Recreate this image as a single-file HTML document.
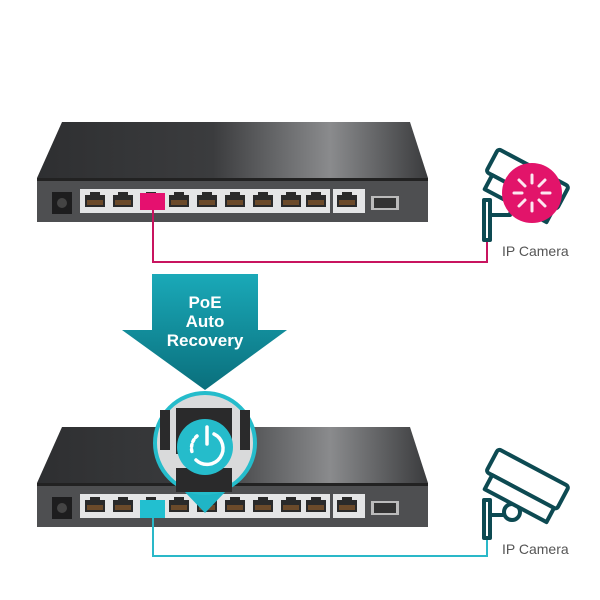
<!DOCTYPE html>
<html><head><meta charset="utf-8"><style>
html,body{margin:0;padding:0;background:#fff;}
svg{display:block;}
text{font-family:"Liberation Sans",sans-serif;}
</style></head><body>
<svg width="600" height="600" viewBox="0 0 600 600" xmlns="http://www.w3.org/2000/svg">
<defs>
<linearGradient id="top" x1="0" y1="0" x2="1" y2="0">
<stop offset="0" stop-color="#2e2f31"/><stop offset="0.45" stop-color="#3b3c3e"/><stop offset="0.75" stop-color="#8a8b8d"/><stop offset="1" stop-color="#3a3b3d"/>
</linearGradient>
<linearGradient id="arr" x1="0" y1="0" x2="0" y2="1">
<stop offset="0" stop-color="#1aa9b8"/><stop offset="1" stop-color="#0a6f7c"/>
</linearGradient>
<g id="port">
<rect x="0" y="0" width="26" height="22" fill="#e4e5e6"/>
<rect x="3" y="5" width="20" height="12" fill="#2a2a2a"/>
<rect x="8" y="2" width="10" height="4" fill="#2a2a2a"/>
<rect x="5" y="10" width="16" height="5" fill="#6b4a2a"/>
</g>
<g id="sw">
<polygon points="62,122 410,122 428,178 37,178" fill="url(#top)"/>
<rect x="37" y="178" width="391" height="44" fill="#4e4f51"/>
<rect x="37" y="178" width="391" height="3" fill="#222"/>
<rect x="52" y="192" width="20" height="22" fill="#1d1d1e"/>
<circle cx="62" cy="203" r="5" fill="#444"/>
<rect x="80" y="189" width="285" height="24" fill="#e4e5e6"/>
<use href="#port" x="82" y="190"/><use href="#port" x="110" y="190"/><use href="#port" x="138" y="190"/>
<use href="#port" x="166" y="190"/><use href="#port" x="194" y="190"/><use href="#port" x="222" y="190"/>
<use href="#port" x="250" y="190"/><use href="#port" x="278" y="190"/><use href="#port" x="303" y="190"/><use href="#port" x="334" y="190"/>
<rect x="330" y="189" width="3" height="24" fill="#4e4f51"/>
<rect x="371" y="196" width="28" height="14" fill="#bbb"/><rect x="374" y="198" width="22" height="10" fill="#333"/>
</g>
</defs>

<use href="#sw"/>
<rect x="140" y="193" width="25" height="17" fill="#e5106f"/>
<polyline points="153,210 153,262 487,262 487,230" fill="none" stroke="#c8145f" stroke-width="2"/>

<g fill="none" stroke="#0d4a52" stroke-width="4" stroke-linejoin="round">
<rect x="484" y="200" width="6" height="40" fill="#fff"/>
<path d="M490 215 L510 215 L512 205"/>
<g transform="rotate(28 530 185)">
<rect x="485" y="168" width="80" height="26" rx="3" fill="#fff"/>
<rect x="492" y="194" width="70" height="16" fill="#fff"/>
</g>
</g>
<circle cx="532" cy="193" r="30" fill="#e2146a"/>
<g stroke="#fff" stroke-width="3" stroke-linecap="round" opacity="0.9">
<line x1="532" y1="175" x2="532" y2="183"/><line x1="532" y1="203" x2="532" y2="211"/>
<line x1="514" y1="193" x2="522" y2="193"/><line x1="542" y1="193" x2="550" y2="193"/>
<line x1="519" y1="180" x2="525" y2="186"/><line x1="539" y1="200" x2="545" y2="206"/>
<line x1="545" y1="180" x2="539" y2="186"/><line x1="525" y1="200" x2="519" y2="206"/>
</g>
<text x="502" y="256" font-size="14" fill="#555">IP Camera</text>

<polygon points="152,274 258,274 258,330 287,330 205,390 122,330 152,330" fill="url(#arr)"/>
<text x="205" y="308" font-size="17" font-weight="bold" fill="#fff" text-anchor="middle">PoE</text>
<text x="205" y="327" font-size="17" font-weight="bold" fill="#fff" text-anchor="middle">Auto</text>
<text x="205" y="346" font-size="17" font-weight="bold" fill="#fff" text-anchor="middle">Recovery</text>

<use href="#sw" transform="translate(0,305)"/>
<rect x="140" y="500" width="25" height="18" fill="#22bfd0"/>
<polyline points="153,518 153,556 487,556 487,528" fill="none" stroke="#2ab8c8" stroke-width="2"/>

<polygon points="183,490 227,490 205,513" fill="#1fb5c6"/>
<circle cx="205" cy="443" r="50" fill="#d9dadb" stroke="#25bccb" stroke-width="4"/>
<rect x="176" y="408" width="56" height="46" fill="#2a2a2b"/>
<rect x="160" y="410" width="10" height="40" fill="#2a2a2b"/>
<rect x="240" y="410" width="10" height="40" fill="#2a2a2b"/>
<rect x="176" y="468" width="56" height="24" fill="#2a2a2b"/>
<circle cx="205" cy="447" r="28" fill="#25bccb"/>
<g fill="none" stroke="#fff" stroke-width="3.5" stroke-linecap="round">
<line x1="207" y1="427" x2="207" y2="444"/>
<path d="M214 434 A16 16 0 1 1 196 460"/>
<path d="M197 436 A16 16 0 0 0 192 452" stroke-dasharray="2 3"/>
</g>

<g fill="none" stroke="#0d4a52" stroke-width="4" stroke-linejoin="round">
<rect x="484" y="500" width="6" height="38" fill="#fff"/>
<path d="M490 515 L505 515"/>
<circle cx="512" cy="512" r="8" fill="#fff"/>
<g transform="rotate(28 530 485)">
<rect x="485" y="468" width="80" height="26" rx="3" fill="#fff"/>
<rect x="492" y="494" width="70" height="16" fill="#fff"/>
</g>
</g>
<text x="502" y="554" font-size="14" fill="#555">IP Camera</text>
</svg>
</body></html>
